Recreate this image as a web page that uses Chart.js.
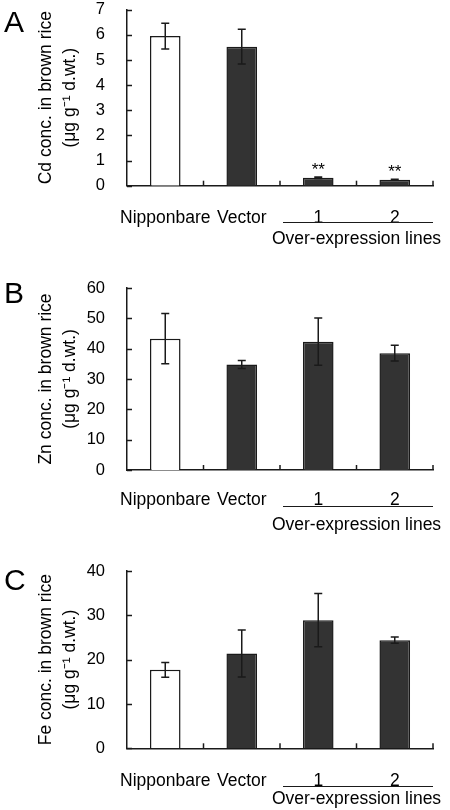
<!DOCTYPE html>
<html><head><meta charset="utf-8">
<script src="https://cdn.jsdelivr.net/npm/chart.js@4"></script>
<style>
html,body{margin:0;padding:0;background:#fff;}
#wrap{position:relative;width:450px;height:810px;background:#fff;}
canvas{position:absolute;left:0;}
</style></head>
<body><div id="wrap">
<canvas id="cA" width="450" height="270" style="top:0px"></canvas>
<canvas id="cB" width="450" height="270" style="top:270px"></canvas>
<canvas id="cC" width="450" height="270" style="top:540px"></canvas>
</div>
<script>
// ---- data ----
const categories = ['Nipponbare', 'Vector', '1', '2'];
const groupLabel = 'Over-expression lines';
const barColors = ['#ffffff', '#333333', '#333333', '#333333'];

const cdValues = [5.95, 5.53, 0.32, 0.24];
const cdErrors = [0.51, 0.69, 0.03, 0.02];
const cdMarks  = ['', '', '**', '**'];
const cdTitle  = ['Cd conc. in brown rice', '(\u03bcg g\u207b\u00b9 d.wt.)'];
const cdAxis   = {max: 7, step: 1};

const znValues = [43.3, 34.8, 42.3, 38.5];
const znErrors = [8.3, 1.3, 7.8, 2.6];
const znMarks  = ['', '', '', ''];
const znTitle  = ['Zn conc. in brown rice', '(\u03bcg g\u207b\u00b9 d.wt.)'];
const znAxis   = {max: 60, step: 10};

const feValues = [17.7, 21.4, 28.9, 24.4];
const feErrors = [1.65, 5.3, 6.0, 0.7];
const feMarks  = ['', '', '', ''];
const feTitle  = ['Fe conc. in brown rice', '(\u03bcg g\u207b\u00b9 d.wt.)'];
const feAxis   = {max: 40, step: 10};

// ---- drawing ----
const FONT = '"Liberation Sans", Arial, Helvetica, sans-serif';
const INK = '#1a1a1a';

const extras = {
  id: 'extras',
  afterDatasetsDraw(chart, args, o) {
    const ctx = chart.ctx, xs = chart.scales.x, ys = chart.scales.y;
    const area = chart.chartArea;
    const meta = chart.getDatasetMeta(0);
    const vals = chart.data.datasets[0].data;
    ctx.save();
    ctx.strokeStyle = INK; ctx.fillStyle = '#000'; ctx.lineWidth = 1.5;
    // y ticks pointing inward
    ys.ticks.forEach(t => {
      const py = Math.round(ys.getPixelForValue(t.value)) + 0.5;
      ctx.beginPath(); ctx.moveTo(area.left, py); ctx.lineTo(area.left + 5, py); ctx.stroke();
    });
    // x ticks at category boundaries pointing up
    for (let i = 1; i <= vals.length; i++) {
      const px = xs.getPixelForValue(i - 0.5);
      ctx.beginPath(); ctx.moveTo(px, area.bottom); ctx.lineTo(px, area.bottom - 5); ctx.stroke();
    }
    // error bars
    o.errors.forEach((e, i) => {
      const bx = meta.data[i].x;
      const yt = ys.getPixelForValue(vals[i] + e), yb = ys.getPixelForValue(vals[i] - e);
      ctx.beginPath();
      ctx.moveTo(bx, yt); ctx.lineTo(bx, yb);
      ctx.moveTo(bx - 4, yt); ctx.lineTo(bx + 4, yt);
      ctx.moveTo(bx - 4, yb); ctx.lineTo(bx + 4, yb);
      ctx.stroke();
      if (o.marks[i]) {
        ctx.font = '17px ' + FONT; ctx.textAlign = 'center'; ctx.textBaseline = 'alphabetic';
        ctx.fillText(o.marks[i], bx, yt - 2);
      }
    });
    // group line and label
    const gx0 = xs.getPixelForValue(1.5) + 3, gx1 = area.right;
    const gy = Math.round(area.bottom + o.lineOffset) + 0.5;
    ctx.lineWidth = 1;
    ctx.beginPath(); ctx.moveTo(gx0, gy); ctx.lineTo(gx1, gy); ctx.stroke();
    ctx.font = '17.5px ' + FONT; ctx.textAlign = 'center'; ctx.textBaseline = 'middle';
    ctx.fillText(groupLabel, xs.getPixelForValue(2.5), area.bottom + o.textOffset);
    // panel letter
    ctx.font = '30px ' + FONT; ctx.textAlign = 'left'; ctx.textBaseline = 'alphabetic';
    ctx.fillText(o.letter, 4, o.letterY);
    ctx.restore();
  }
};

function makeChart(id, values, errors, marks, title, axis, lay) {
  return new Chart(document.getElementById(id), {
    type: 'bar',
    data: {
      labels: categories,
      datasets: [{
        data: values,
        backgroundColor: barColors,
        borderColor: INK,
        borderWidth: 1.5,
        barPercentage: 0.4,
        categoryPercentage: 1.0
      }]
    },
    options: {
      responsive: false,
      animation: false,
      devicePixelRatio: 1,
      layout: {padding: {left: 0, right: 17, top: lay.top, bottom: 0}},
      plugins: {
        legend: {display: false},
        tooltip: {enabled: false},
        extras: {errors: errors, marks: marks, letter: lay.letter, letterY: lay.letterY,
                 lineOffset: lay.lineOffset, textOffset: lay.textOffset}
      },
      scales: {
        x: {
          grid: {display: false, drawTicks: false},
          border: {display: true, color: INK, width: 1.5},
          ticks: {color: '#000', font: {family: FONT, size: 17.5}, padding: lay.labelPad,
                  autoSkip: false, maxRotation: 0, minRotation: 0},
          afterFit(s) { s.height = 270 - lay.bottom; }
        },
        y: {
          min: 0, max: axis.max,
          grid: {display: false, drawTicks: false},
          border: {display: true, color: INK, width: 1.5},
          ticks: {stepSize: axis.step, color: '#000', padding: 22,
                  font: {family: FONT, size: 16.5, lineHeight: 1.1}},
          title: {display: true, text: title, color: '#000',
                  font: {family: FONT, size: 17.5, lineHeight: '24px'},
                  padding: {top: 34, bottom: 0}},
          afterFit(s) { s.width = 127; s.paddingTop = 6; s.paddingBottom = 6; }
        }
      }
    },
    plugins: [extras]
  });
}

makeChart('cA', cdValues, cdErrors, cdMarks, cdTitle, cdAxis,
  {letter: 'A', letterY: 32, top: 9.7, bottom: 185.7, labelPad: 21.5, lineOffset: 36, textOffset: 53.5});
makeChart('cB', znValues, znErrors, znMarks, znTitle, znAxis,
  {letter: 'B', letterY: 33, top: 18, bottom: 200, labelPad: 19.7, lineOffset: 36, textOffset: 55});
makeChart('cC', feValues, feErrors, feMarks, feTitle, feAxis,
  {letter: 'C', letterY: 50, top: 31, bottom: 208.3, labelPad: 22, lineOffset: 37.5, textOffset: 51});
</script>
</body></html>
